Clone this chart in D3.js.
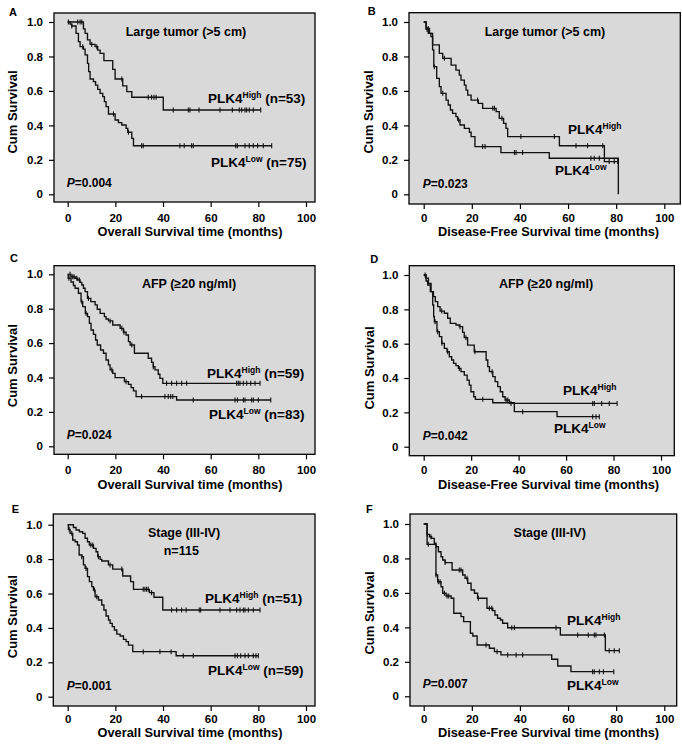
<!DOCTYPE html>
<html><head><meta charset="utf-8">
<script src="https://cdn.jsdelivr.net/npm/d3@7"></script>
<style>
body{margin:0;background:#fff;}
text{font-family:"Liberation Sans",Arial,sans-serif;font-weight:bold;fill:#000;}
</style>
</head><body>
<svg id="c" width="682" height="746"></svg>
<script>
// ---------- data ----------
const timeTicks = [0, 20, 40, 60, 80, 100];
const survTicks = [0, 0.2, 0.4, 0.6, 0.8, 1.0];
const panelLetters = ["A", "B", "C", "D", "E", "F"];
const panelTitles = ["Large tumor (>5 cm)", "Large tumor (>5 cm)", "AFP (≥20 ng/ml)", "AFP (≥20 ng/ml)", "Stage (III-IV)", "Stage (III-IV)"];
const panelSubtitles = ["", "", "", "", "n=115", ""];
const xTitles = ["Overall Survival time (months)", "Disease-Free Survival time (months)", "Overall Survival time (months)", "Disease-Free Survival time (months)", "Overall Survival time (months)", "Disease-Free Survival time (months)"];
const yTitle = "Cum Survival";
const pValues = ["0.004", "0.023", "0.024", "0.042", "0.001", "0.007"];
const highN = ["(n=53)", "", "(n=59)", "", "(n=51)", ""];
const lowN = ["(n=75)", "", "(n=83)", "", "(n=59)", ""];

// KM steps: [time (months), survival after event]; censor: times
const A_high = [[6.6,0.96],[7.3,0.934],[8.3,0.896],[9.4,0.870],[11.5,0.857],[12.6,0.837],[13.6,0.818],[15.2,0.776],[18.9,0.725],[19.9,0.669],[23.1,0.629],[24.8,0.596],[26.9,0.563],[40.1,0.489]];
const A_highC = [4.2,5.2,5.9,10.1,12.2,22.7,33.8,35.2,36.2,37.1,44.3,50.6,51.3,55.1,63.9,69.1,72.0,73.0,74.4,75.1,76.2,77.9,81.0];
const A_low = [[1.0,0.988],[1.7,0.977],[3.5,0.934],[4.5,0.886],[5.2,0.857],[6.6,0.843],[7.3,0.809],[8.3,0.760],[8.8,0.712],[9.4,0.669],[10.8,0.654],[11.7,0.634],[12.6,0.609],[13.6,0.586],[14.7,0.567],[15.4,0.538],[16.1,0.509],[17.1,0.466],[19.9,0.431],[21.3,0.416],[22.7,0.402],[24.5,0.383],[25.2,0.360],[26.9,0.325],[27.6,0.282]];
const A_lowC = [0.3,1.7,6.3,19.2,25.5,31.0,31.7,47.1,48.9,52.0,52.7,70.5,71.2,74.4,76.2,77.9,79.7,82.1,85.6];

const B_high = [[1.0,0.963],[2.4,0.934],[3.7,0.867],[6.5,0.818],[7.9,0.789],[11.4,0.750],[13.4,0.721],[14.8,0.692],[15.5,0.663],[16.9,0.634],[17.6,0.605],[18.3,0.576],[19.7,0.547],[22.7,0.528],[24.5,0.499],[30.1,0.480],[31.4,0.441],[33.2,0.412],[34.2,0.383],[34.9,0.335],[56.4,0.282],[75.1,0.190]];
const B_highC = [1.9,8.6,22.4,28.7,29.4,32.5,40.4,54.3,63.3,68.1,74.4,77.1,79.2,80.6];
const B_low = [[1.0,0.957],[1.9,0.934],[3.0,0.915],[3.7,0.838],[4.2,0.741],[5.4,0.673],[6.5,0.625],[7.2,0.586],[9.3,0.547],[10.2,0.518],[11.1,0.489],[12.0,0.470],[13.4,0.451],[14.1,0.431],[15.1,0.402],[16.9,0.383],[19.0,0.360],[19.7,0.335],[21.3,0.277],[32.1,0.242],[52.2,0.209],[80.9,0]];
const B_lowC = [1.4,4.4,7.9,14.5,24.5,25.5,37.7,38.4,41.1,69.5,70.9,73.0];

const C_high = [[1.4,0.986],[3.1,0.977],[4.2,0.967],[5.2,0.953],[5.9,0.938],[6.6,0.919],[7.3,0.899],[8.3,0.860],[9.7,0.841],[11.5,0.822],[12.4,0.797],[13.6,0.773],[15.4,0.754],[16.1,0.740],[17.1,0.729],[18.9,0.705],[22.0,0.686],[23.4,0.663],[24.5,0.647],[25.5,0.609],[26.2,0.589],[28.0,0.541],[33.8,0.512],[35.2,0.488],[35.9,0.463],[36.6,0.444],[38.0,0.419],[38.7,0.395],[39.9,0.366]];
const C_highC = [1.0,2.1,2.7,3.8,4.9,8.7,17.8,22.7,23.6,26.9,35.9,41.5,43.6,45.7,47.8,49.9,70.9,71.6,72.3,73.7,75.1,76.8,78.6,80.7];
const C_low = [[0.2,0.977],[1.4,0.955],[2.4,0.935],[3.1,0.919],[4.5,0.890],[5.6,0.841],[6.3,0.812],[7.4,0.773],[8.3,0.754],[9.1,0.715],[9.8,0.676],[10.8,0.651],[11.7,0.618],[12.4,0.589],[13.8,0.560],[15.0,0.541],[16.1,0.502],[17.1,0.473],[17.8,0.444],[18.9,0.424],[19.9,0.399],[23.8,0.376],[25.5,0.360],[26.6,0.341],[27.6,0.322],[28.7,0.289],[45.7,0.269]];
const C_lowC = [0.5,5.9,7.7,18.5,24.5,31.0,40.8,42.2,43.2,44.1,52.7,70.2,71.2,73.7,74.4,77.2,77.9,80.0,85.2];

const D_high = [[1.0,0.981],[2.0,0.951],[3.1,0.903],[4.1,0.874],[4.9,0.845],[5.9,0.816],[6.9,0.790],[8.7,0.777],[10.1,0.748],[11.2,0.718],[13.6,0.709],[15.0,0.699],[16.4,0.666],[17.1,0.635],[18.5,0.592],[21.3,0.553],[26.3,0.505],[27.0,0.466],[27.7,0.437],[29.1,0.408],[30.1,0.379],[31.2,0.350],[32.3,0.320],[33.3,0.291],[34.3,0.272],[36.1,0.252]];
const D_highC = [7.6,15.3,17.8,21.6,28.8,34.7,35.4,36.8,71.2,71.9,75.0,78.2,81.5];
const D_low = [[1.0,0.965],[1.7,0.942],[2.8,0.903],[3.8,0.825],[4.2,0.757],[4.5,0.728],[5.6,0.670],[6.6,0.641],[7.6,0.602],[8.7,0.573],[9.8,0.553],[10.8,0.524],[11.8,0.505],[12.6,0.485],[13.6,0.472],[14.6,0.456],[15.7,0.437],[17.1,0.417],[18.3,0.388],[19.2,0.359],[19.9,0.320],[21.1,0.291],[21.8,0.276],[29.1,0.256],[38.2,0.204],[56.2,0.175]];
const D_lowC = [0.6,4.8,5.9,7.7,10.1,15.0,24.9,41.7,71.2,72.6,74.0];

const E_high = [[2.4,0.984],[3.5,0.969],[4.9,0.959],[6.3,0.950],[7.3,0.921],[8.3,0.901],[9.1,0.882],[10.8,0.862],[11.9,0.843],[12.6,0.814],[13.6,0.798],[14.3,0.789],[17.1,0.766],[18.9,0.742],[23.1,0.702],[26.4,0.669],[27.6,0.624],[34.3,0.605],[36.2,0.578],[39.9,0.504]];
const E_highC = [9.7,10.5,12.9,17.8,22.7,31.7,32.4,33.1,33.8,35.2,43.6,45.7,47.8,49.7,55.2,55.8,63.9,68.1,70.9,72.3,73.7,74.4,75.8,77.9,80.7];
const E_low = [[0.3,0.973],[1.0,0.950],[2.1,0.911],[3.1,0.901],[4.1,0.882],[4.8,0.824],[5.9,0.814],[6.6,0.766],[7.3,0.746],[8.3,0.698],[9.1,0.669],[10.1,0.640],[10.8,0.620],[11.5,0.581],[12.9,0.562],[14.3,0.533],[15.2,0.504],[16.1,0.469],[17.1,0.446],[17.8,0.426],[18.7,0.407],[19.6,0.388],[20.6,0.364],[22.0,0.353],[23.4,0.333],[24.5,0.320],[25.5,0.300],[27.3,0.262],[45.5,0.238]];
const E_lowC = [0.6,1.7,5.9,7.7,11.2,12.2,31.7,38.7,43.4,48.5,52.7,70.2,71.2,72.6,74.4,75.8,77.9,79.0,80.0];

const F_high = [[1.4,0.940],[2.4,0.926],[3.3,0.917],[4.4,0.888],[5.1,0.868],[6.1,0.839],[7.2,0.810],[7.9,0.791],[8.9,0.776],[11.8,0.733],[16.2,0.704],[17.2,0.685],[18.3,0.656],[19.7,0.617],[21.1,0.598],[22.4,0.569],[26.3,0.511],[28.7,0.497],[29.6,0.472],[30.7,0.453],[31.9,0.443],[32.8,0.424],[34.9,0.398],[56.8,0.356],[75.5,0.265]];
const F_highC = [1.5,3.0,8.9,14.8,15.5,18.0,22.7,27.3,28.3,36.6,37.7,55.0,64.0,68.4,70.9,71.6,75.1,77.1,79.2,81.3];
const F_low = [[1.4,0.882],[5.1,0.704],[5.8,0.665],[7.2,0.636],[7.9,0.598],[9.3,0.582],[11.4,0.569],[12.5,0.482],[15.5,0.462],[16.6,0.433],[19.4,0.366],[20.4,0.350],[22.2,0.298],[27.3,0.279],[29.4,0.259],[32.1,0.240],[53.2,0.215],[55.7,0.176],[61.2,0.143]];
const F_lowC = [1.9,5.1,6.1,6.8,8.6,9.7,10.4,25.9,30.5,34.9,38.4,41.1,70.2,70.9,73.0,74.7,79.0];

const highSteps = [A_high, B_high, C_high, D_high, E_high, F_high];
const highCens = [A_highC, B_highC, C_highC, D_highC, E_highC, F_highC];
const lowSteps = [A_low, B_low, C_low, D_low, E_low, F_low];
const lowCens = [A_lowC, B_lowC, C_lowC, D_lowC, E_lowC, F_lowC];

// ---------- layout (positions only) ----------
const layout = [
  {box:[54,13,315,202], xr:[67.7,306], yr:[194.3,22], xLab:222.2, xTit:236.3, xTitCx:190, yTitX:12, yTitCy:112, letter:[9,16], title:[186,35.5], sub:null, hi:[208,102.6], lo:[211,166.7], p:[66.7,187]},
  {box:[409,12.7,680.3,204], xr:[423.7,664.3], yr:[194.3,22], xLab:222.2, xTit:236.3, xTitCx:548.5, yTitX:368, yTitCy:112, letter:[367.7,15], title:[545,35.5], sub:null, hi:[568,134], lo:[555,175], p:[422.7,188]},
  {box:[54,265.7,315,454.3], xr:[67.7,306], yr:[446.3,274.3], xLab:474.5, xTit:488.6, xTitCx:190, yTitX:12, yTitCy:365.7, letter:[10,261.7], title:[189,288], sub:null, hi:[207,377.7], lo:[209,419], p:[66.7,439.3]},
  {box:[409.3,265.7,674.3,455.7], xr:[423.7,661], yr:[446.7,275], xLab:474.5, xTit:488.6, xTitCx:548.5, yTitX:369, yTitCy:368, letter:[370.3,263.3], title:[546,288], sub:null, hi:[563,395], lo:[554,433], p:[422.7,440]},
  {box:[53.3,514,315,706], xr:[67.7,306], yr:[696.7,524.7], xLab:722.8, xTit:737.2, xTitCx:190, yTitX:12, yTitCy:616.7, letter:[11.7,513.3], title:[184,537], sub:[181.3,555], hi:[205,603], lo:[208,675], p:[66.7,690]},
  {box:[410,514,676.7,706], xr:[423.7,664.3], yr:[696.3,524], xLab:722.8, xTit:737.2, xTitCx:548.5, yTitX:369, yTitCy:613, letter:[366,512.7], title:[549.7,536.7], sub:null, hi:[567,625], lo:[567,690], p:[422.7,688.3]}
];

const svg = d3.select("#c");

function survAt(steps, t){
  let s = 1;
  for (const [ti, si] of steps){ if (ti <= t) s = si; else break; }
  return s;
}

layout.forEach((L, i) => {
  const g = svg.append("g");
  const x = d3.scaleLinear().domain([0,100]).range(L.xr);
  const y = d3.scaleLinear().domain([0,1]).range(L.yr);
  const [bx0,by0,bx1,by1] = L.box;

  g.append("rect").attr("x",bx0).attr("y",by0).attr("width",bx1-bx0).attr("height",by1-by0)
    .attr("fill","#d9d9d9").attr("stroke","none");

  // curves
  const line = d3.line().x(d=>x(d[0])).y(d=>y(d[1])).curve(d3.curveStepAfter);
  [[highSteps[i], highCens[i]], [lowSteps[i], lowCens[i]]].forEach(([steps, cens]) => {
    const last = steps[steps.length-1];
    const endT = Math.max(last[0], d3.max(cens));
    const pts = [[0,1], ...steps, [endT, last[1]]];
    g.append("path").attr("d", line(pts)).attr("fill","none").attr("stroke","#111").attr("stroke-width",1.35);
    g.selectAll(null).data(cens).enter().append("line")
      .attr("x1", d=>x(d)).attr("x2", d=>x(d))
      .attr("y1", d=>y(survAt(steps,d))-2.5).attr("y2", d=>y(survAt(steps,d))+2.5)
      .attr("stroke","#111").attr("stroke-width",1.1);
  });

  g.append("rect").attr("x",bx0).attr("y",by0).attr("width",bx1-bx0).attr("height",by1-by0)
    .attr("fill","none").attr("stroke","#000").attr("stroke-width",1.3);

  // axes
  const ya = g.append("g").attr("transform",`translate(${bx0},0)`)
    .call(d3.axisLeft(y).tickValues(survTicks).tickSize(5).tickPadding(6)
      .tickFormat(d => d===0 ? "0" : d3.format(".1f")(d)));
  ya.select(".domain").remove();
  ya.selectAll("line").attr("stroke","#000").attr("stroke-width",1.2);
  ya.selectAll("text").style("font-size","11.5px").attr("font-family",null);

  const xa = g.append("g").attr("transform",`translate(0,${by1})`)
    .call(d3.axisBottom(x).tickValues(timeTicks).tickSize(5));
  xa.select(".domain").remove();
  xa.selectAll("line").attr("stroke","#000").attr("stroke-width",1.2);
  xa.selectAll("text").style("font-size","11.5px").attr("font-family",null)
    .attr("y", L.xLab - by1).attr("dy", 0);

  // titles
  g.append("text").attr("x",L.xTitCx).attr("y",L.xTit).attr("text-anchor","middle")
    .style("font-size","12.8px").text(xTitles[i]);
  g.append("text").attr("transform",`translate(${L.yTitX},${L.yTitCy}) rotate(-90)`)
    .attr("text-anchor","middle").attr("dy","0.35em").style("font-size","13px").text(yTitle);
  g.append("text").attr("x",L.letter[0]).attr("y",L.letter[1]).style("font-size","11px").text(panelLetters[i]);
  g.append("text").attr("x",L.title[0]).attr("y",L.title[1]).attr("text-anchor","middle")
    .style("font-size","12.5px").text(panelTitles[i]);
  if (L.sub) g.append("text").attr("x",L.sub[0]).attr("y",L.sub[1]).attr("text-anchor","middle")
    .style("font-size","12.5px").text(panelSubtitles[i]);

  // group labels
  [[L.hi, "High", highN[i]], [L.lo, "Low", lowN[i]]].forEach(([pos, sup, n]) => {
    const t = g.append("text").attr("x",pos[0]).attr("y",pos[1]).style("font-size","13.5px");
    t.append("tspan").text("PLK4");
    t.append("tspan").attr("dy",-5).style("font-size","8.5px").text(sup);
    if (n) t.append("tspan").attr("dy",5).text(" " + n);
  });

  // p value
  const pt = g.append("text").attr("x",L.p[0]).attr("y",L.p[1]).style("font-size","12px");
  pt.append("tspan").style("font-style","italic").text("P");
  pt.append("tspan").text("=" + pValues[i]);
});
</script>
</body></html>
